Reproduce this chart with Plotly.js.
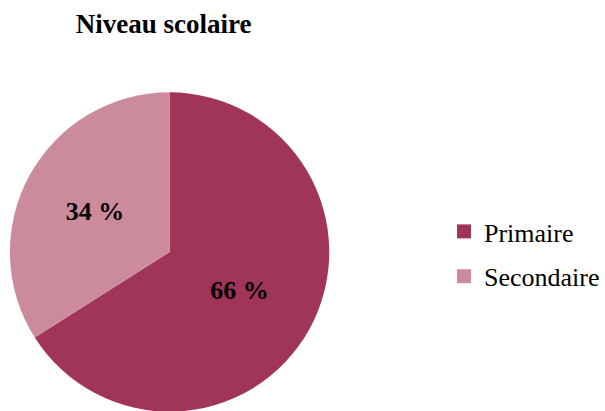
<!DOCTYPE html>
<html>
<head>
<meta charset="utf-8">
<script src="https://cdn.plot.ly/plotly-3.0.1.min.js"></script>
<style>html,body{margin:0;padding:0;overflow:hidden;background:#fff;width:605px;height:411px}</style>
</head>
<body>
<div id="chart"></div>
<script>
const categories = ["Primaire", "Secondaire"];
const values = [66, 34];
const colors = ["rgb(161,52,89)", "rgb(203,139,155)"];
const chartTitle = "Niveau scolaire";

const W = 605, H = 420;
const serif = "'Liberation Serif', 'Times New Roman', serif";

const pie = {
  type: "pie",
  labels: categories,
  values: values,
  sort: false,
  direction: "clockwise",
  rotation: 0,
  marker: {colors: colors, line: {width: 0}},
  texttemplate: "%{value} %",
  textposition: "inside",
  insidetextorientation: "horizontal",
  textfont: {family: serif, size: 26, color: "#000", weight: "bold"},
  hoverinfo: "skip",
  showlegend: false,
  domain: {x: [10 / W, 332 / W], y: [(H - 413) / H, (H - 91) / H]}
};

const legendTraces = categories.map((c, i) => ({
  type: "scatter",
  x: [null], y: [null],
  mode: "markers",
  name: c,
  legendgroup: "g" + i,
  marker: {symbol: "square", size: 14, color: colors[i]},
  showlegend: true
}));

const layout = {
  width: W, height: H,
  margin: {l: 0, r: 0, t: 0, b: 0},
  paper_bgcolor: "#fff",
  plot_bgcolor: "#fff",
  title: {
    text: "<b>" + chartTitle + "</b>",
    font: {family: serif, size: 27, color: "#000"},
    x: 165 / W, xanchor: "center", xref: "paper",
    y: 1 - 24 / H, yanchor: "middle", yref: "container"
  },
  xaxis: {visible: false},
  yaxis: {visible: false},
  showlegend: true,
  legend: {
    x: 448 / W, xanchor: "left",
    y: 1 - 208 / H, yanchor: "top",
    font: {family: serif, size: 26, color: "#000"},
    tracegroupgap: 8,
    bgcolor: "rgba(0,0,0,0)"
  }
};

Plotly.newPlot("chart", [pie].concat(legendTraces), layout, {displayModeBar: false, staticPlot: true});
</script>
</body>
</html>
